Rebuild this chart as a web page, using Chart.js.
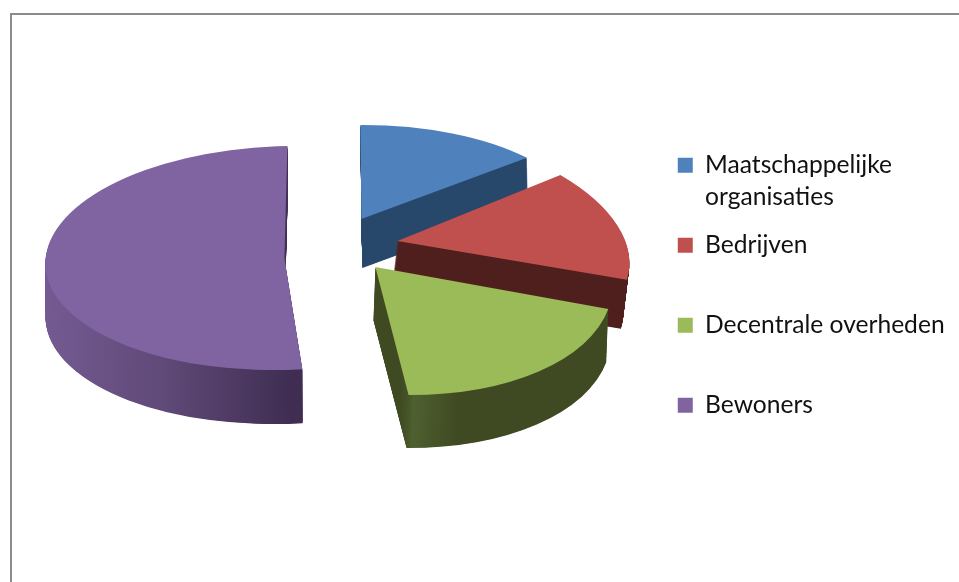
<!DOCTYPE html>
<html>
<head>
<meta charset="utf-8">
<script src="https://cdn.jsdelivr.net/npm/chart.js@4/dist/chart.umd.min.js"></script>
<style>
html,body{margin:0;padding:0;background:#fff;overflow:hidden;width:959px;height:582px}
#frame{position:absolute;left:10px;top:13px;width:1000px;height:700px;border-left:2px solid #8c8c8c;border-top:2px solid #8c8c8c;box-sizing:border-box}
canvas{position:absolute;left:0;top:0}
</style>
</head>
<body>
<div id="frame"></div>
<canvas id="c" width="959" height="582"></canvas>
<script>
const categories = [["Maatschappelijke", "organisaties"], "Bedrijven", "Decentrale overheden", "Bewoners"];
const shares = [13.9, 15, 19.7, 51.4];
const topColors = ["#4F81BD", "#C0504D", "#9BBB59", "#8064A2"];

// Wall shading: [stop along the slice's width, colour]
const wallShades = [
  [[0, "#27476B"], [1, "#27476B"]],
  [[0, "#4F1F1E"], [1, "#4F1F1E"]],
  [[0.535, "#3F4A22"], [0.555, "#4E6030"], [0.65, "#3F4A22"], [1, "#3F4A22"]],
  [[0, "#745A92"], [0.25, "#604A78"], [0.52, "#3F2D52"], [1, "#3F2D52"]]
];

// 3-D look of each slice: explosion from the pie centre, projected axes, extrusion
const explode = [[30.5, -86], [66.5, -64], [44.5, -38], [-46.5, -47]];
const axisRight = [[217, -1], [231, 11], [237, 11.5], [239, -4]];
const axisUp = [[-1, -94], [-22, -116], [-12.4, -127.5], [3, -112]];
const extrude = [[1, 49], [-6, 49], [-2, 53], [0.2, 54]];

const pie3d = {
  id: "pie3d",
  beforeDatasetDraw(chart, args) {
    const ctx = chart.ctx;
    const arcs = chart.getDatasetMeta(args.index).data;
    arcs.forEach((arc, i) => {
      const R = arc.outerRadius;
      const place = (k) => {
        ctx.save();
        ctx.translate(arc.x + explode[i][0] + k * extrude[i][0], arc.y + explode[i][1] + k * extrude[i][1]);
        ctx.transform(axisRight[i][0] / R, axisRight[i][1] / R, -axisUp[i][0] / R, -axisUp[i][1] / R, 0, 0);
        ctx.translate(-arc.x, -arc.y);
      };
      const base = arc.options;
      place(0);
      const wall = ctx.createLinearGradient(arc.x - R, 0, arc.x + R, 0);
      ctx.restore();
      wallShades[i].forEach(s => wall.addColorStop(s[0], s[1]));
      const wallOptions = Object.create(base);
      wallOptions.backgroundColor = wall;
      arc.options = wallOptions;
      for (let k = 1; k >= 0.01; k -= 0.01) {
        place(k);
        arc.draw(ctx);
        ctx.restore();
      }
      arc.options = base;
      place(0);
      arc.draw(ctx);
      ctx.restore();
    });
    return false;
  }
};

new Chart(document.getElementById("c"), {
  type: "pie",
  data: {
    labels: categories,
    datasets: [{ data: shares, backgroundColor: topColors, borderWidth: 0 }]
  },
  plugins: [pie3d],
  options: {
    responsive: false,
    animation: false,
    layout: { padding: { top: 28, right: 4.4 } },
    plugins: {
      tooltip: { enabled: false },
      legend: {
        position: "right",
        align: "center",
        labels: {
          boxWidth: 15,
          boxHeight: 15,
          padding: 16,
          color: "#111",
          font: { family: "Lato", size: 24.6, lineHeight: 32 / 24.6 },
          // every entry takes two text lines, so the rows are evenly spaced as in the original
          generateLabels(chart) {
            const items = Chart.overrides.pie.plugins.legend.labels.generateLabels(chart);
            items.forEach(it => { if (typeof it.text === "string") it.text = [it.text, ""]; });
            return items;
          }
        }
      }
    }
  }
});
</script>
</body>
</html>
